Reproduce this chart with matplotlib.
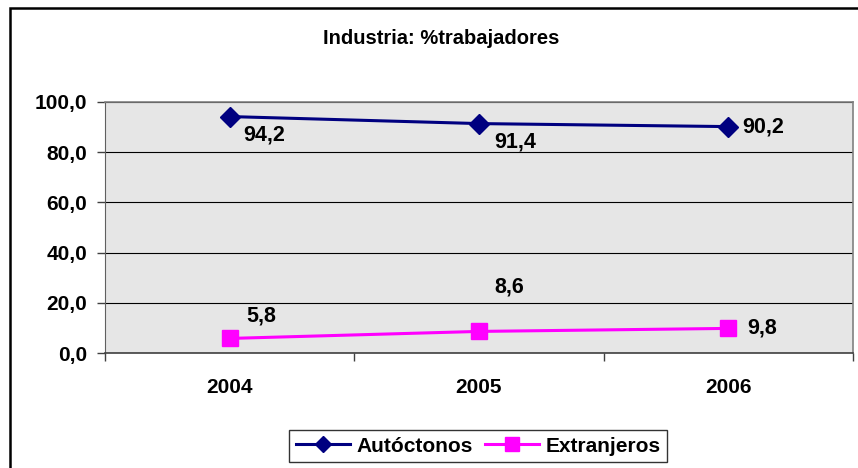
import matplotlib
matplotlib.use("Agg")
import matplotlib.pyplot as plt
from matplotlib.patches import Rectangle

plt.rcParams['font.family'] = ['Liberation Sans', 'DejaVu Sans']

years = ["2004", "2005", "2006"]
autoctonos = [94.2, 91.4, 90.2]
extranjeros = [5.8, 8.6, 9.8]
yticks = [0, 20, 40, 60, 80, 100]
ytick_labels = ["0,0", "20,0", "40,0", "60,0", "80,0", "100,0"]
title = "Industria: %trabajadores"
series_names = ["Autóctonos", "Extranjeros"]

W, H = 858, 468
fig = plt.figure(figsize=(W / 100, H / 100), dpi=100)
fig.patch.set_facecolor("white")

# outer frame
fig.patches.append(Rectangle((10 / W, -0.05), 1.2, 1 - 8 / H + 0.05,
                             transform=fig.transFigure, fill=False,
                             edgecolor="black", linewidth=1.8, zorder=0))

ax = fig.add_axes([105 / W, 1 - 353 / H, (853 - 105) / W, (353 - 102) / H])
ax.set_facecolor("#e6e6e6")

x = list(range(len(years)))
ax.plot(x, autoctonos, color="#000080", linewidth=2.2, marker="D",
        markersize=10, label=series_names[0], zorder=3)
ax.plot(x, extranjeros, color="#ff00ff", linewidth=2.2, marker="s",
        markersize=12, label=series_names[1], zorder=3)

fmt = lambda v: f"{v:.1f}".replace(".", ",")
auto_off = [(25, -13), (26, -13), (25, 0)]
ext_off = [(23, 16), (22, 32), (24, 0)]
for xi, v, off in zip(x, autoctonos, auto_off):
    ax.annotate(fmt(v), (xi, v), xytext=off, textcoords="offset points",
                ha="center", va="center", fontsize=15.5, fontweight="bold")
for xi, v, off in zip(x, extranjeros, ext_off):
    ax.annotate(fmt(v), (xi, v), xytext=off, textcoords="offset points",
                ha="center", va="center", fontsize=15.5, fontweight="bold")

ax.set_xlim(-0.5, len(years) - 0.5)
ax.set_ylim(0, 100)
ax.set_yticks(yticks)
ax.set_yticklabels(ytick_labels, fontsize=15, fontweight="bold")
ax.set_xticks(x)
ax.set_xticklabels(years, fontsize=15, fontweight="bold")
ax.set_xticks([i - 0.5 for i in range(len(years) + 1)], minor=True)
ax.tick_params(axis="x", which="major", length=0, pad=18)
ax.tick_params(axis="x", which="minor", length=6, width=1, color="#404040")
ax.tick_params(axis="y", length=6, width=1, color="#404040", pad=7)
ax.yaxis.grid(True, color="black", linewidth=0.8)
ax.set_axisbelow(True)

for s in ["top", "right"]:
    ax.spines[s].set_color("#808080")
    ax.spines[s].set_linewidth(1.2)
ax.spines["left"].set_color("#606060")
ax.spines["bottom"].set_color("#404040")
ax.spines["bottom"].set_linewidth(1.2)

fig.text(441 / W, 1 - 38 / H, title, ha="center", va="center",
         fontsize=14.5, fontweight="bold")

leg = fig.legend(loc="center", bbox_to_anchor=(478 / W, 1 - 446 / H),
                 ncol=2, prop={"weight": "bold", "size": 15},
                 frameon=True, fancybox=False, edgecolor="black",
                 handlelength=2.6, columnspacing=0.6, handletextpad=0.3,
                 borderpad=0.3, markerscale=0.85)
leg.get_frame().set_linewidth(1.0)

fig.savefig("out.png", dpi=100)
